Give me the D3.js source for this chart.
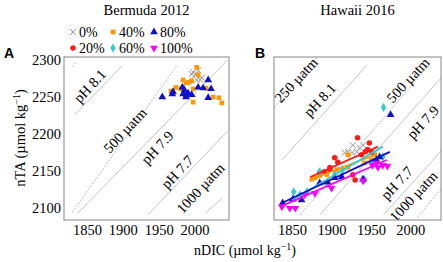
<!DOCTYPE html>
<html>
<head>
<meta charset="utf-8">
<script src="https://cdn.jsdelivr.net/npm/d3@7"></script>
<style>
  body { margin: 0; background: #fff; }
  svg { display: block; }
</style>
</head>
<body>
<div id="chart"></div>
<script>
// ---- data (nDIC, nTA) ----
const xTicks = [1850, 1900, 1950, 2000];
const yTicks = [2100, 2150, 2200, 2250, 2300];

const bermuda0 = [[1998,2284],[2001,2280],[2005,2286],[2010,2276],[2008,2273],[2003,2273],[1989,2269],[1996,2281]];
const bermuda40 = [[2003,2290],[1988,2269],[1992,2270],[1984,2273],[1974,2263],[1967,2258],[1981,2261],[1998,2261],
  [1996,2272],[2016,2262],[2034,2249],[2038,2242],[1998,2243],[2026,2250],[2005,2280]];
const bermuda80 = [[1955,2250],[1969,2254],[1983,2263],[1986,2259],[1984,2254],[1989,2253],[1991,2255],[2005,2263],
  [2012,2262],[2019,2273],[2023,2261],[2019,2249],[1970,2257],[1996,2253],[1988,2250]];

const hawaii0 = [[1921,2176],[1927,2185],[1936,2181],[1926,2175],[1932,2176],[1940,2185],[1917,2175]];
const hawaii20 = [[1933,2195],[1948,2188],[1904,2168],[1908,2162],[1898,2152],[1891,2149],[1885,2148],[1946,2179],
  [1951,2175],[1927,2145],[1930,2138],[1898,2155],[1938,2172],[1943,2176]];
const hawaii40 = [[1875,2139],[1879,2141],[1885,2144],[1894,2145],[1907,2152],[1921,2155],[1921,2172],[1942,2161],
  [1955,2172],[1951,2165]];
const hawaii60 = [[1852,2122],[1860,2118],[1869,2122],[1885,2149],[1914,2152],[1940,2138],[1942,2138],[1952,2162],
  [1965,2169],[1904,2145],[1966,2236]];
const hawaii80 = [[1838,2107],[1851,2112],[1862,2111],[1885,2134],[1895,2135],[1904,2141],[1913,2142],[1940,2139],
  [1957,2165],[1961,2169],[1975,2226]];
const hawaii100 = [[1837,2102],[1847,2100],[1854,2100],[1866,2118],[1879,2120],[1900,2127],[1952,2158],[1957,2161],
  [1965,2158],[1971,2157],[1959,2155],[1940,2137]];

// regression lines for Hawaii
const hawaiiFits = [
  { key: "20%", pts: [[1873,2142],[1959,2183]] },
  { key: "40%", pts: [[1875,2139],[1955,2172]] },
  { key: "60%", pts: [[1850,2111],[1965,2183]] },
  { key: "80%", pts: [[1837,2107],[1974,2176]] },
  { key: "100%", pts: [[1835,2102],[1970,2165]] }
];

// pH (solid) and pCO2 (dashed) isolines
const bermudaIso = [
  { dash: true, pts: [[1829,2291],[1835,2297]] },
  { dash: false, pts: [[1833,2226],[1899,2292]] },
  { dash: true, pts: [[1829,2094],[1975,2292]] },
  { dash: false, pts: [[1837,2093],[2046,2300]] },
  { dash: false, pts: [[1935,2091],[2046,2204]] },
  { dash: true, pts: [[1980,2102],[2043,2156]] },
  { dash: false, pts: [[2015,2093],[2038,2113]] }
];
const hawaiiIso = [
  { dash: true, pts: [[1828,2236],[1881,2303]] },
  { dash: false, pts: [[1837,2165],[1945,2293]] },
  { dash: true, pts: [[1860,2091],[2024,2293]] },
  { dash: false, pts: [[1885,2091],[2040,2277]] },
  { dash: false, pts: [[1966,2091],[2040,2178]] },
  { dash: true, pts: [[2009,2087],[2040,2127]] }
];
const bermudaIsoLabels = [
  { text: "pH 8.1", at: [1854,2265] },
  { text: "500 µatm", at: [1903,2205] },
  { text: "pH 7.9", at: [1948,2182] },
  { text: "pH 7.7", at: [1976,2149] },
  { text: "1000 µatm", at: [2008,2127] }
];
const hawaiiIsoLabels = [
  { text: "250 µatm", at: [1855,2273] },
  { text: "pH 8.1", at: [1885,2246] },
  { text: "500 µatm", at: [1997,2273] },
  { text: "pH 7.9", at: [2016,2216] },
  { text: "pH 7.7", at: [1983,2134] },
  { text: "1000 µatm", at: [2004,2116] }
];

// ---- styles ----
const serif = "'Liberation Serif', 'Times New Roman', serif";
const colors = { "0%": "#9a9a9a", "20%": "#ff1a1a", "40%": "#ff9900", "60%": "#33cccc", "80%": "#1010c8", "100%": "#ff00ff" };
const shapes = {
  "0%": { type: d3.symbolTimes, size: 26, rot: 0, stroke: true },
  "20%": { type: d3.symbolCircle, size: 24, rot: 0 },
  "40%": { type: d3.symbolSquare, size: 22, rot: 0 },
  "60%": { type: d3.symbolDiamond, size: 24, rot: 0 },
  "80%": { type: d3.symbolTriangle, size: 26, rot: 0 },
  "100%": { type: d3.symbolTriangle, size: 26, rot: 180 }
};

const width = 443, height = 262;
const svg = d3.select("#chart").append("svg")
  .attr("width", width).attr("height", height)
  .attr("font-family", serif);

const plotTop = 57, plotBottom = 220;
const y = d3.scaleLinear().domain([2084, 2304]).range([plotBottom, plotTop]);

const panels = [
  { id: "A", title: "Bermuda 2012", left: 64, right: 229, dom: [1818, 2048],
    series: [["0%", bermuda0], ["40%", bermuda40], ["80%", bermuda80]],
    iso: bermudaIso, isoLabels: bermudaIsoLabels, fits: [], yLabels: true },
  { id: "B", title: "Hawaii 2016", left: 274, right: 441, dom: [1827, 2039],
    series: [["0%", hawaii0], ["40%", hawaii40], ["20%", hawaii20], ["60%", hawaii60], ["80%", hawaii80], ["100%", hawaii100]],
    iso: hawaiiIso, isoLabels: hawaiiIsoLabels, fits: hawaiiFits, yLabels: false }
];

function marker(sel, key) {
  const s = shapes[key];
  sel.attr("d", d3.symbol().type(s.type).size(s.size)())
    .attr("fill", s.stroke ? "none" : colors[key])
    .attr("stroke", s.stroke ? colors[key] : "none")
    .attr("stroke-width", s.stroke ? 1 : 0);
}

panels.forEach((p, pi) => {
  const x = d3.scaleLinear().domain(p.dom).range([p.left, p.right]);
  const g = svg.append("g");

  g.append("clipPath").attr("id", "clip" + p.id)
    .append("rect").attr("x", p.left).attr("y", plotTop)
    .attr("width", p.right - p.left).attr("height", plotBottom - plotTop);

  const plot = g.append("g").attr("clip-path", `url(#clip${p.id})`);
  const line = d3.line().x(d => x(d[0])).y(d => y(d[1]));

  // isolines
  plot.append("g").selectAll("path")
    .data(p.iso)
    .join("path")
    .attr("d", d => line(d.pts))
    .attr("fill", "none")
    .attr("stroke", d => d.dash ? "#b4b4b4" : "#c4c4c4")
    .attr("stroke-width", 1)
    .attr("stroke-dasharray", d => d.dash ? "2,1.5" : null);

  plot.append("g")
    .attr("font-size", 14.5)
    .attr("font-family", serif)
    .attr("text-anchor", "middle")
    .selectAll("text")
    .data(p.isoLabels)
    .join("text")
    .attr("transform", d => `translate(${x(d.at[0])},${y(d.at[1])}) rotate(-47)`)
    .attr("dy", "0.35em")
    .text(d => d.text);

  // points
  p.series.forEach(([key, pts]) => {
    plot.append("g").selectAll("path")
      .data(pts)
      .join("path")
      .attr("transform", d => `translate(${x(d[0])},${y(d[1])}) rotate(${shapes[key].rot})`)
      .call(marker, key);
  });

  // fitted lines
  plot.append("g").selectAll("path")
    .data(p.fits)
    .join("path")
    .attr("d", d => line(d.pts))
    .attr("fill", "none")
    .attr("stroke", d => colors[d.key])
    .attr("stroke-width", 1.8);

  // frame
  g.append("rect")
    .attr("x", p.left).attr("y", plotTop)
    .attr("width", p.right - p.left).attr("height", plotBottom - plotTop)
    .attr("fill", "none").attr("stroke", "#858585").attr("stroke-width", 1);

  // axes
  const xa = g.append("g").attr("transform", `translate(0,${plotBottom})`)
    .call(d3.axisBottom(x).tickValues(xTicks).tickSize(0).tickPadding(5).tickFormat(d3.format("d")))
    .attr("font-family", serif).attr("font-size", 14.5);
  xa.select(".domain").remove();
  xa.selectAll("text").attr("fill", "#000");

  if (p.yLabels) {
    const ya = g.append("g").attr("transform", `translate(${p.left},0)`)
      .call(d3.axisLeft(y).tickValues(yTicks).tickSize(0).tickPadding(3).tickFormat(d3.format("d")))
      .attr("font-family", serif).attr("font-size", 14.5);
    ya.select(".domain").remove();
    ya.selectAll("text").attr("fill", "#000");
  }

  // titles and panel letters
  svg.append("text")
    .attr("x", (p.left + p.right) / 2).attr("y", 15)
    .attr("text-anchor", "middle")
    .attr("font-size", 14.5)
    .text(p.title);

  svg.append("text")
    .attr("x", p.left - (pi === 0 ? 60 : 19)).attr("y", 58)
    .attr("font-family", "'Liberation Sans', Arial, sans-serif")
    .attr("font-weight", "bold")
    .attr("font-size", 14)
    .text(p.id);
});

// legend
const legendRows = [["0%", "40%", "80%"], ["20%", "60%", "100%"]];
const legendX = [73, 113, 154];
legendRows.forEach((row, ri) => {
  row.forEach((key, ci) => {
    const lg = svg.append("g").attr("transform", `translate(${legendX[ci]},${32 + ri * 16})`);
    lg.append("path")
      .attr("transform", `rotate(${shapes[key].rot})`)
      .call(marker, key);
    lg.append("text")
      .attr("x", 6).attr("dy", "0.35em")
      .attr("font-size", 14)
      .text(key);
  });
});

// axis titles
const xt = svg.append("text")
  .attr("x", 245).attr("y", 255)
  .attr("text-anchor", "middle")
  .attr("font-size", 14);
xt.append("tspan").text("nDIC (µmol kg");
xt.append("tspan").attr("dy", -5).attr("font-size", 10).text("−1");
xt.append("tspan").attr("dy", 5).text(")");

const yt = svg.append("text")
  .attr("transform", "translate(25,138) rotate(-90)")
  .attr("text-anchor", "middle")
  .attr("font-size", 14.5);
yt.append("tspan").text("nTA (µmol kg");
yt.append("tspan").attr("dy", -5).attr("font-size", 10).text("−1");
yt.append("tspan").attr("dy", 5).text(")");
</script>
</body>
</html>
